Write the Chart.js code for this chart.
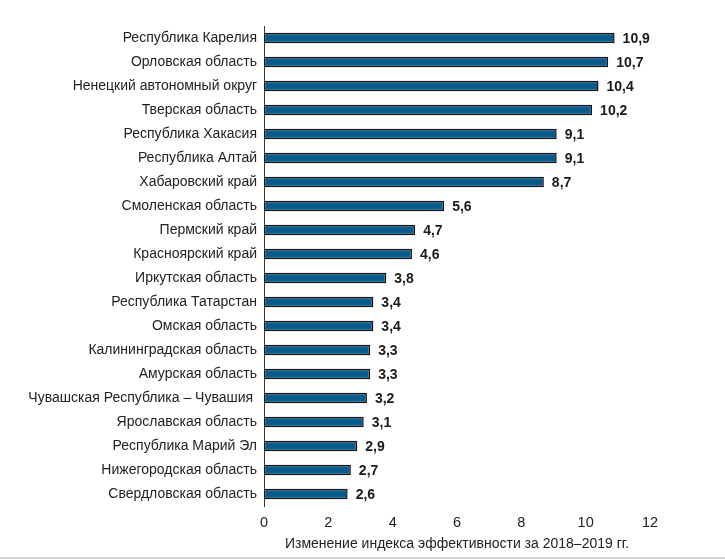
<!DOCTYPE html>
<html>
<head>
<meta charset="utf-8">
<script src="https://cdn.jsdelivr.net/npm/chart.js@4"></script>
<style>
  html, body { margin: 0; padding: 0; background: #fff; }
  #wrap { position: relative; width: 725px; height: 560px; }
  #line { position: absolute; left: 0; top: 557px; width: 725px; height: 2px; background: #d4d4d4; }
</style>
</head>
<body>
<div id="wrap">
  <canvas id="c" width="725" height="560"></canvas>
  <div id="line"></div>
</div>
<script>
const categories = [
  "Республика Карелия",
  "Орловская область",
  "Ненецкий автономный округ",
  "Тверская область",
  "Республика Хакасия",
  "Республика Алтай",
  "Хабаровский край",
  "Смоленская область",
  "Пермский край",
  "Красноярский край",
  "Иркутская область",
  "Республика Татарстан",
  "Омская область",
  "Калининградская область",
  "Амурская область",
  "Чувашская Республика – Чувашия ",
  "Ярославская область",
  "Республика Марий Эл",
  "Нижегородская область",
  "Свердловская область"
];
const values = [10.9, 10.7, 10.4, 10.2, 9.1, 9.1, 8.7, 5.6, 4.7, 4.6, 3.8, 3.4, 3.4, 3.3, 3.3, 3.2, 3.1, 2.9, 2.7, 2.6];
const xTicks = [0, 2, 4, 6, 8, 10, 12];
const axisTitle = "Изменение индекса эффективности за 2018–2019 гг.";

const FONT = "'Liberation Sans Narrow', 'Arial Narrow', 'Liberation Sans', sans-serif";
const fmt = v => String(v).replace('.', ',');

const valueLabels = {
  id: 'valueLabels',
  afterDatasetsDraw(chart) {
    const ctx = chart.ctx;
    const meta = chart.getDatasetMeta(0);
    ctx.save();
    ctx.font = "bold 14px " + FONT;
    ctx.fillStyle = '#1a1a1a';
    ctx.textAlign = 'left';
    ctx.textBaseline = 'middle';
    meta.data.forEach((bar, i) => {
      ctx.fillText(fmt(values[i]), bar.x + 8, bar.y + 1);
    });
    ctx.restore();
  }
};

new Chart(document.getElementById('c'), {
  type: 'bar',
  data: {
    labels: categories,
    datasets: [{
      data: values,
      backgroundColor: '#0b5a8c',
      borderColor: '#141414',
      borderWidth: 1.5,
      borderSkipped: false,
      categoryPercentage: 1.0,
      barPercentage: 0.44
    }]
  },
  options: {
    indexAxis: 'y',
    responsive: false,
    animation: false,
    layout: { padding: { top: 26, right: 75, left: 0, bottom: 0 } },
    plugins: { legend: { display: false }, tooltip: { enabled: false } },
    scales: {
      x: {
        min: 0, max: 12,
        afterBuildTicks: s => { s.ticks = xTicks.map(v => ({ value: v })); },
        afterFit: s => { s.height = 54; },
        grid: { display: false, drawTicks: false },
        border: { display: false },
        ticks: { color: '#222', font: { family: FONT, size: 14.5 }, padding: 8, maxRotation: 0 },
        title: { display: true, text: axisTitle, color: '#222', font: { family: FONT, size: 14 }, padding: { top: 2, bottom: 7 } }
      },
      y: {
        afterFit: s => { s.width = 264; },
        grid: { display: false, drawTicks: false },
        border: { display: true, color: '#333', width: 1 },
        ticks: { color: '#222', font: { family: FONT, size: 14 }, padding: 7, autoSkip: false }
      }
    }
  },
  plugins: [valueLabels]
});
</script>
</body>
</html>
